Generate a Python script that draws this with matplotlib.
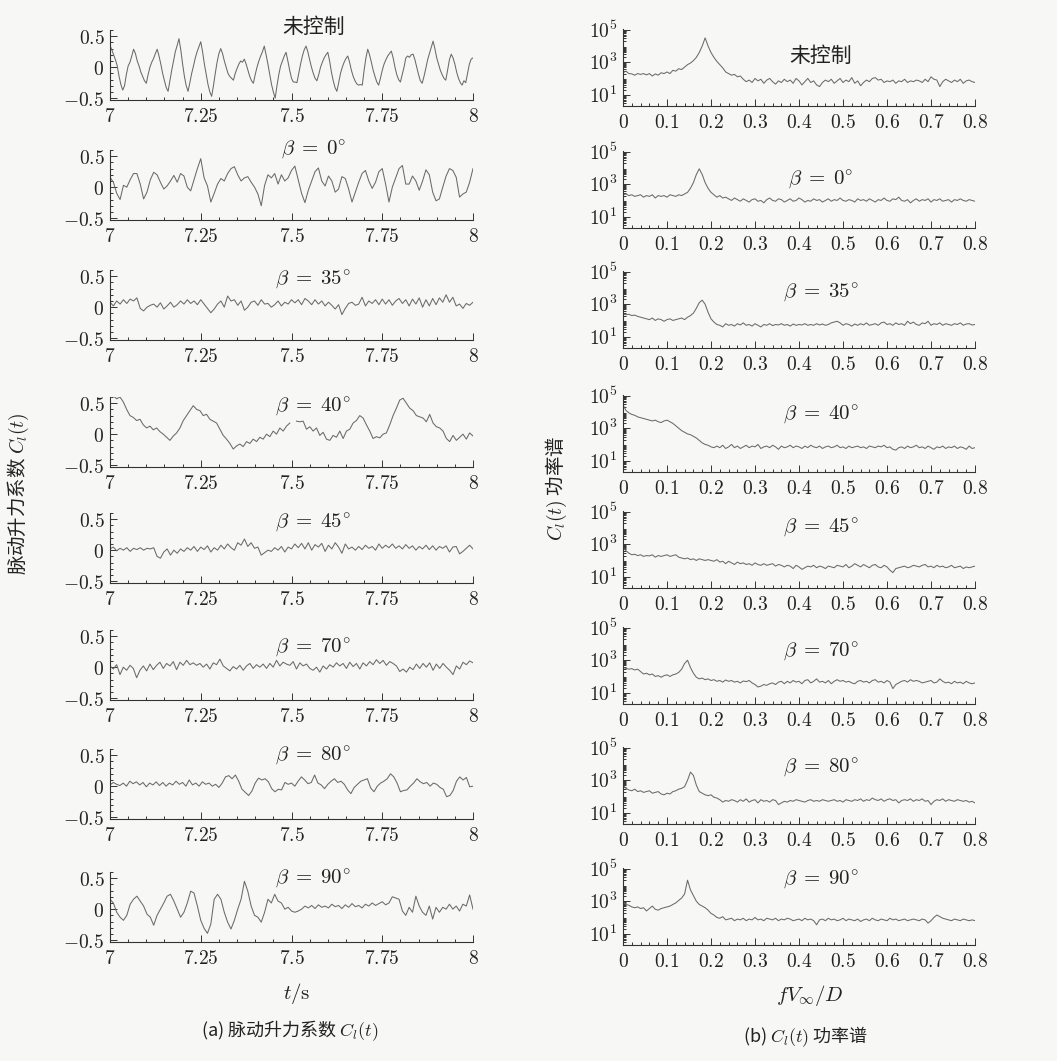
import numpy as np
import matplotlib
matplotlib.use("Agg")
import matplotlib.pyplot as plt
from matplotlib.ticker import MultipleLocator, LogLocator, NullFormatter

plt.rcParams['font.family'] = ['Noto Sans CJK SC', 'DejaVu Sans']
plt.rcParams['mathtext.fontset'] = 'cm'

# ---- pulsating lift coefficient Cl(t), t = 7..8 s ----
cl_none = [0.35, 0.28, 0.20, 0.12, 0.02, -0.15, -0.28, -0.37,
           -0.30, -0.12, 0.02, 0.08, 0.18, 0.29,
           0.22, 0.10, 0.02, -0.08, -0.15, -0.22, -0.26,
           -0.12, 0.00, 0.08, 0.14, 0.22, 0.29,
           0.18, 0.05, -0.10, -0.22, -0.33, -0.39,
           -0.22, -0.05, 0.10, 0.25, 0.35, 0.46,
           0.28, 0.05, -0.15, -0.30, -0.39,
           -0.25, -0.10, 0.02, 0.15, 0.25, 0.33, 0.41,
           0.25, 0.05, -0.12, -0.28, -0.40, -0.47,
           -0.30, -0.10, 0.08, 0.22, 0.30,
           0.22, 0.10, 0.00, -0.10, -0.15, -0.18, -0.21,
           -0.10, -0.02, 0.05, 0.10, 0.08, 0.13,
           0.05, -0.05, -0.15, -0.22, -0.26,
           -0.12, 0.00, 0.10, 0.18, 0.25, 0.34,
           0.20, 0.05, -0.12, -0.28, -0.40, -0.50,
           -0.30, -0.12, 0.02, 0.10, 0.18, 0.24,
           0.10, -0.05, -0.18, -0.24, -0.24, -0.25,
           -0.10, 0.05, 0.18, 0.28, 0.34,
           0.25, 0.12, 0.00, -0.10, -0.18, -0.22,
           -0.12, 0.00, 0.08, 0.15, 0.20, 0.24,
           0.10, -0.08, -0.22, -0.33, -0.39,
           -0.25, -0.10, 0.00, 0.08, 0.14, 0.18,
           0.08, -0.05, -0.15, -0.22, -0.27, -0.29,
           -0.28, -0.29, -0.05, 0.15, 0.29,
           0.20, 0.08, -0.05, -0.15, -0.24, -0.29,
           -0.18, -0.05, 0.05, 0.12, 0.18, 0.22, 0.26,
           0.15, 0.00, -0.12, -0.20, -0.24,
           -0.12, 0.00, 0.15, 0.18, 0.16, 0.20, 0.21,
           0.12, 0.00, -0.12, -0.22, -0.26,
           -0.15, -0.02, 0.12, 0.22, 0.32, 0.42,
           0.30, 0.15, 0.05, -0.05, -0.12, -0.18, -0.21,
           -0.05, 0.12, 0.21,
           0.15, 0.05, -0.08, -0.18, -0.25, -0.29,
           -0.22, -0.25, -0.10, 0.05, 0.13, 0.15]

cl_b0 = [0.16, 0.08, -0.10, -0.20, 0.03, 0.00, 0.12, 0.22, 0.22, 0.05,
         -0.19, -0.08, 0.12, 0.24, 0.20, 0.08, -0.03, 0.02, 0.10, 0.19,
         0.08, 0.22, 0.18, 0.00, -0.06, 0.12, 0.30, 0.46, 0.15, 0.02,
         -0.24, -0.10, 0.05, 0.14, 0.10, 0.22, 0.30, 0.33, 0.20, 0.10,
         0.15, 0.17, 0.08, 0.00, -0.11, -0.30, 0.03, 0.20, 0.15, 0.22,
         0.05, 0.20, 0.10, 0.15, 0.27, 0.34, 0.12, -0.10, -0.25, -0.05,
         0.10, 0.25, 0.31, 0.10, 0.02, 0.18, 0.10, -0.08, -0.03, 0.17,
         0.14, -0.03, -0.24, -0.08, 0.08, 0.22, 0.27, 0.10, -0.02, 0.08,
         0.25, 0.30, 0.05, -0.24, 0.00, 0.15, 0.30, 0.35, 0.05, 0.05,
         0.18, 0.10, -0.05, 0.10, 0.28, 0.20, -0.08, -0.22, -0.19, 0.00,
         0.18, 0.30, 0.27, 0.16, -0.16, -0.11, -0.08, 0.08, 0.30]

cl_b35 = [0.08, 0.02, 0.10, 0.05, 0.12, 0.06, 0.13, 0.10, 0.15, -0.02,
          -0.06, 0.00, 0.03, 0.05, 0.00, 0.07, -0.03, 0.02, 0.08, 0.00,
          0.04, 0.10, 0.05, 0.12, 0.06, 0.10, 0.04, 0.12, 0.05, -0.02,
          -0.09, -0.03, 0.05, 0.10, 0.00, 0.18, 0.10, 0.12, 0.03, 0.10,
          -0.05, 0.00, 0.08, 0.10, 0.03, 0.12, 0.05, 0.06, 0.00, 0.04,
          0.10, 0.02, 0.08, 0.05, 0.12, 0.07, 0.12, 0.04, 0.14, 0.10,
          0.04, 0.12, 0.05, 0.10, 0.02, 0.08, 0.03, -0.03, 0.04, -0.12,
          -0.02, 0.06, 0.08, 0.03, 0.05, 0.16, 0.02, 0.10, 0.06, 0.12,
          0.04, 0.13, 0.05, 0.12, 0.03, 0.10, 0.14, 0.06, 0.12, 0.02,
          0.13, 0.05, 0.15, 0.00, 0.12, 0.02, 0.14, 0.04, 0.15, 0.08,
          0.20, 0.08, 0.16, 0.02, 0.05, -0.02, 0.06, 0.03, 0.08]

nan = float('nan')
cl_b40 = [0.58, 0.62, 0.57, 0.60, 0.52, 0.40, 0.30, 0.27, 0.22, 0.24,
          0.15, 0.10, 0.13, 0.07, 0.10, 0.04, 0.00, -0.05, -0.10, -0.03,
          0.02, 0.10, 0.22, 0.30, 0.38, 0.46, 0.40, 0.38, 0.30, 0.32,
          0.24, 0.21, 0.18, 0.08, -0.02, -0.08, -0.15, -0.24, -0.19, -0.16,
          -0.20, -0.12, -0.15, -0.08, -0.12, -0.05, -0.08, 0.00, -0.04, 0.05,
          0.00, 0.10, 0.05, 0.13, 0.18, nan, 0.21, 0.20, 0.21, 0.08,
          0.12, 0.05, 0.10, -0.02, 0.03, -0.08, -0.10, -0.02, -0.05, 0.05,
          -0.07, 0.05, 0.08, 0.18, 0.22, 0.30, 0.26, 0.15, 0.05, -0.07,
          -0.04, -0.06, 0.00, 0.02, 0.15, 0.30, 0.42, 0.55, 0.58, 0.50,
          0.42, 0.38, 0.30, 0.28, 0.26, 0.20, 0.32, 0.18, 0.12, 0.10,
          0.05, -0.07, -0.12, -0.02, -0.10, -0.05, 0.00, -0.08, 0.02, -0.03]

cl_b45 = [0.02, 0.05, -0.01, 0.03, 0.00, 0.04, -0.02, 0.03, 0.01, 0.04,
          0.00, 0.03, 0.02, 0.04, -0.10, -0.13, -0.03, 0.02, -0.08, 0.00,
          -0.05, 0.02, -0.02, 0.04, 0.00, 0.06, -0.02, 0.05, 0.01, 0.07,
          -0.03, 0.04, 0.00, 0.08, 0.02, 0.10, 0.04, 0.00, 0.12, 0.08,
          0.18, 0.06, 0.12, 0.03, 0.05, -0.08, -0.04, 0.00, -0.02, 0.04,
          0.00, 0.06, -0.03, 0.05, 0.02, 0.10, 0.04, 0.11, 0.02, 0.12,
          0.00, 0.09, 0.05, 0.11, -0.02, 0.08, 0.02, 0.12, 0.05, -0.05,
          0.10, 0.02, 0.05, 0.00, 0.06, 0.01, 0.08, 0.03, 0.06, 0.00,
          0.10, 0.03, 0.08, 0.04, 0.10, 0.03, 0.07, 0.02, 0.09, 0.03,
          0.07, 0.00, 0.06, 0.02, 0.08, 0.01, 0.07, 0.00, 0.06, 0.03,
          0.07, -0.03, 0.05, 0.06, -0.06, -0.02, 0.03, 0.08, 0.02]

cl_b70 = [0.02, -0.03, 0.04, -0.12, 0.00, -0.05, 0.03, -0.02, -0.17, -0.05,
          0.02, -0.06, 0.05, -0.04, 0.03, 0.08, -0.02, 0.06, 0.02, 0.09,
          -0.04, 0.08, 0.03, 0.11, 0.04, 0.07, 0.03, 0.06, 0.00, 0.05,
          -0.03, 0.07, 0.04, 0.13, 0.02, -0.02, -0.06, 0.01, -0.03, 0.03,
          -0.05, 0.02, 0.06, -0.02, 0.04, 0.00, 0.05, -0.02, 0.06, 0.00,
          0.11, 0.02, 0.08, 0.05, 0.03, 0.09, -0.03, 0.07, 0.02, 0.05,
          -0.02, -0.05, 0.00, -0.08, 0.02, -0.03, 0.04, 0.00, 0.07, 0.02,
          0.06, -0.02, 0.08, 0.01, 0.06, -0.03, 0.07, 0.02, 0.09, 0.04,
          0.12, 0.06, 0.11, 0.03, 0.09, 0.06, 0.02, -0.07, -0.03, -0.08,
          0.00, -0.04, 0.05, -0.02, 0.06, 0.00, 0.07, -0.05, 0.05, -0.02,
          0.06, 0.00, -0.05, -0.12, 0.02, -0.03, 0.08, 0.04, 0.10, 0.07]

cl_b80 = [0.02, 0.06, 0.03, 0.01, 0.05, 0.00, 0.08, 0.04, 0.07, 0.02,
          0.06, -0.01, 0.05, 0.02, 0.07, 0.01, 0.06, 0.00, 0.05, 0.02,
          0.08, 0.03, 0.06, 0.00, 0.10, 0.02, 0.05, 0.00, 0.07, 0.03,
          0.05, 0.00, 0.03, -0.02, 0.05, 0.15, 0.17, 0.12, 0.18, 0.08,
          -0.05, -0.10, -0.15, -0.08, 0.05, 0.13, 0.10, 0.12, 0.07, -0.04,
          -0.09, -0.05, -0.06, 0.06, 0.03, 0.05, 0.00, 0.08, 0.15, 0.10,
          0.04, 0.06, 0.18, 0.05, 0.02, -0.04, 0.03, 0.08, 0.12, 0.06,
          0.08, 0.03, -0.06, -0.12, -0.02, 0.03, 0.08, 0.10, 0.12, -0.03,
          -0.09, 0.00, 0.05, 0.08, 0.12, 0.20, 0.15, 0.05, -0.09, -0.07,
          -0.06, 0.00, 0.05, 0.12, 0.07, 0.04, 0.06, 0.00, 0.05, 0.03,
          -0.02, -0.05, -0.17, -0.15, -0.07, 0.08, 0.15, 0.10, 0.14, -0.01,
          0.00]

cl_b90 = [0.16, 0.10, -0.05, -0.13, -0.18, -0.10, 0.08, 0.16, 0.21, 0.13,
          0.05, -0.08, -0.13, -0.26, -0.10, 0.00, 0.10, 0.21, 0.24, 0.13,
          0.00, -0.13, -0.05, 0.10, 0.29, 0.26, 0.05, -0.18, -0.31, -0.39,
          -0.24, 0.16, 0.24, 0.16, -0.05, -0.21, -0.32, -0.18, 0.00, 0.16,
          0.45, 0.29, 0.05, -0.10, -0.13, -0.21, -0.05, 0.16, 0.10, 0.24,
          0.13, 0.10, 0.00, 0.03, -0.03, -0.05, -0.03, 0.00, 0.05, 0.02,
          0.06, 0.01, 0.07, 0.03, 0.05, 0.02, 0.08, 0.04, 0.06, 0.01,
          0.07, 0.03, 0.09, 0.04, 0.06, 0.02, 0.08, 0.05, 0.10, 0.06,
          0.09, 0.12, 0.07, 0.10, 0.20, 0.18, 0.16, -0.03, -0.10, 0.03,
          -0.05, 0.21, 0.05, -0.05, -0.10, 0.05, -0.16, 0.03, -0.05, 0.03,
          0.00, 0.08, 0.00, 0.05, -0.03, 0.08, 0.05, 0.23, 0.00]

# ---- power spectra of Cl(t), log10 of power, fV/D = 0..0.8 ----
psd_none = [2.35, 2.45, 2.3, 2.28, 2.2, 2.3, 2.25, 2.3, 2.22, 2.3,
            2.15, 2.28, 2.2, 2.35, 2.3, 2.4, 2.3, 2.5, 2.45, 2.6,
            2.55, 2.7, 2.85, 2.95, 3.1, 3.3, 3.6, 4.0, 4.5,
            4.0, 3.6, 3.3, 3.05, 2.85, 2.65, 2.4, 2.3, 2.2, 2.25, 2.1, 2.15, 1.95, 1.8,
            1.9, 1.75, 2.0, 1.85, 1.95, 1.7, 1.9, 2.0, 1.8, 1.65, 1.85, 1.75, 1.95, 1.8, 1.9, 1.7, 2.0, 1.85,
            1.6, 1.8, 2.0, 1.75, 1.85, 1.6, 1.5, 1.75, 1.9, 1.8, 1.95, 1.7, 1.85, 2.0, 1.75, 1.9, 1.8, 2.05, 1.7, 1.85,
            1.55, 1.75, 1.9, 1.8, 2.0, 2.05, 1.9, 1.95, 1.75, 1.85, 1.8, 1.9, 1.7, 1.85, 1.8, 1.95, 1.75, 1.85, 1.8, 1.9,
            1.85, 1.75, 1.95, 1.8, 2.1, 1.95, 1.9, 1.5, 1.8, 1.95, 1.85, 1.75, 1.9, 1.8, 1.95, 1.7, 1.85, 1.9, 1.8, 1.75]

psd_b0 = [2.35, 2.4, 2.3, 2.35, 2.25, 2.3, 2.35, 2.2, 2.3, 2.25, 2.35, 2.15,
          2.3, 2.25, 2.3, 2.2, 2.35, 2.3, 2.25, 2.35, 2.3, 2.4, 2.5,
          2.75, 3.1, 3.6, 3.95,
          3.6, 3.1, 2.75, 2.5, 2.35, 2.2, 2.3, 2.15, 2.2,
          2.1, 2.0, 2.15, 2.05, 1.95, 2.1, 2.0, 1.9, 2.05, 2.1, 1.95, 2.0, 1.85, 2.05, 2.15, 2.0, 1.95, 2.1, 2.05, 1.9,
          2.0, 2.1, 1.95, 2.0, 2.15, 2.05, 1.9, 2.0, 1.95, 2.1, 2.0, 2.05, 1.9, 2.0, 2.1, 1.95, 2.05, 2.0, 2.15, 2.0,
          1.95, 2.05, 2.0, 1.9, 2.1, 2.0, 2.05, 1.95, 2.1, 2.0, 1.9, 2.05, 2.0, 2.15, 2.0, 1.95, 2.1, 2.05, 2.2, 2.0,
          1.95, 2.05, 1.85, 2.0, 2.1, 1.95, 2.05, 2.0, 2.1, 1.9, 2.05, 2.0, 2.1, 1.95, 2.0, 2.05, 1.9, 2.05, 2.0, 2.1,
          2.0, 1.95, 2.05, 2.0, 1.95]

psd_b35 = [2.4, 2.35, 2.38, 2.3, 2.33, 2.25, 2.2, 2.15, 2.1, 2.05, 2.15, 2.0, 2.1,
           2.05, 1.95, 2.05, 2.1, 2.0, 2.05, 2.1, 2.15, 2.05, 2.2, 2.3, 2.45,
           2.75, 3.1, 3.25, 3.0, 2.5, 2.1, 1.9, 1.75,
           1.7, 1.6, 1.8, 1.7, 1.75, 1.65, 1.8, 1.72, 1.85, 1.7, 1.75, 1.65, 1.8, 1.7, 1.6, 1.75, 1.7, 1.8, 1.68, 1.75,
           1.72, 1.8, 1.7, 1.75, 1.65, 1.78, 1.7, 1.75, 1.72, 1.8, 1.7, 1.75, 1.7, 1.8, 1.72, 1.78, 1.7, 1.75, 1.85, 1.9,
           1.95, 1.85, 1.7, 1.8, 1.75, 1.65, 1.78, 1.7, 1.8, 1.72, 1.85, 1.7, 1.75, 1.8, 1.7, 1.85, 1.9, 1.75, 1.8, 1.7,
           1.85, 1.75, 1.8, 1.7, 1.95, 1.8, 1.9, 1.75, 1.7, 1.85, 1.8, 1.95, 1.7, 1.8, 1.75, 1.85, 1.7, 1.8, 1.75, 1.7,
           1.8, 1.75, 1.85, 1.7, 1.78, 1.8, 1.72, 1.75]

psd_b40 = [4.45, 4.1, 3.95, 3.85, 3.8, 3.7, 3.65, 3.6, 3.55, 3.5, 3.45, 3.5, 3.4, 3.35, 3.45, 3.5,
           3.4, 3.3, 3.15, 3.0, 2.85, 2.75, 2.65, 2.6, 2.5, 2.4, 2.25, 2.1, 2.0, 1.95, 1.85, 1.8,
           1.9, 1.8, 1.95, 1.75, 1.85, 2.0, 1.8, 1.9, 1.75, 1.85, 1.95, 1.8, 1.9, 1.85, 2.0, 1.75, 1.85, 1.9, 1.8, 1.95,
           1.85, 1.7, 1.9, 1.8, 1.85, 1.95, 1.8, 1.9, 1.85, 1.75, 1.9, 1.8, 1.95, 1.85, 1.8, 1.9, 1.75, 1.85, 1.9, 1.8,
           1.85, 1.95, 1.8, 1.85, 1.75, 1.9, 1.8, 1.85, 1.9, 1.8, 1.85, 1.75, 1.9, 1.85, 1.8, 1.9, 1.85, 1.95, 1.8, 1.85,
           1.7, 1.65, 1.8, 1.85, 1.75, 1.9, 1.8, 1.85, 1.95, 1.8, 1.85, 1.75, 1.9, 1.8, 1.7, 1.85, 1.8, 1.9, 1.75, 1.85,
           1.8, 1.9, 1.75, 1.85, 1.8, 1.7, 1.9, 1.75, 1.8]

psd_b45 = [2.8, 2.6, 2.45, 2.35, 2.38, 2.3, 2.35, 2.25, 2.3, 2.28, 2.35, 2.2, 2.3, 2.25, 2.3, 2.35, 2.25, 2.3, 2.35, 2.2,
           2.15, 2.1, 2.15, 2.05, 2.1, 2.0, 2.1, 2.05, 2.0, 2.05, 2.0, 1.95, 2.05, 1.9, 1.95, 1.8, 1.95, 1.85, 1.75, 1.9,
           1.8, 1.85, 1.75, 1.8, 1.7, 1.85, 1.75, 1.7, 1.8, 1.7, 1.75, 1.8, 1.65, 1.75, 1.7, 1.6, 1.7, 1.65, 1.5, 1.7,
           1.6, 1.45, 1.55, 1.65, 1.6, 1.7, 1.55, 1.65, 1.6, 1.5, 1.65, 1.6, 1.55, 1.7, 1.65, 1.6, 1.75, 1.55, 1.65, 1.8,
           1.7, 1.6, 1.75, 1.65, 1.55, 1.7, 1.75, 1.6, 1.55, 1.7, 1.6, 1.4, 1.25, 1.5, 1.55, 1.6, 1.65, 1.55, 1.6, 1.7,
           1.65, 1.6, 1.7, 1.75, 1.6, 1.65, 1.55, 1.7, 1.6, 1.65, 1.55, 1.6, 1.7, 1.55, 1.6, 1.65, 1.5, 1.6, 1.55, 1.6,
           1.65]

psd_b70 = [2.55, 2.5, 2.45, 2.48, 2.4, 2.45, 2.3, 2.15, 2.2, 2.1, 2.15, 2.0, 2.05, 1.95, 2.05, 2.1, 2.0, 2.1, 2.15, 2.25,
           2.45, 2.8, 3.0, 2.55, 2.2, 1.95, 1.85, 1.9, 1.8, 1.85, 1.75, 1.8, 1.7, 1.75, 1.65, 1.78, 1.7, 1.75, 1.65, 1.7,
           1.6, 1.72, 1.68, 1.75, 1.6, 1.5, 1.35, 1.4, 1.5, 1.45, 1.55, 1.6, 1.5, 1.65, 1.7, 1.55, 1.7, 1.6, 1.75, 1.65,
           1.7, 1.55, 1.75, 1.8, 1.6, 1.7, 1.85, 1.65, 1.7, 1.6, 1.75, 1.55, 1.7, 1.8, 1.7, 1.75, 1.65, 1.7, 1.6, 1.55,
           1.7, 1.75, 1.65, 1.7, 1.6, 1.75, 1.8, 1.65, 1.7, 1.6, 1.75, 1.65, 1.25, 1.5, 1.6, 1.7, 1.75, 1.65, 1.8, 1.7,
           1.75, 1.7, 1.6, 1.65, 1.7, 1.75, 1.6, 1.65, 1.85, 1.7, 1.6, 1.65, 1.55, 1.7, 1.6, 1.65, 1.55, 1.7, 1.6, 1.55,
           1.6]

psd_b80 = [2.7, 2.5, 2.4, 2.35, 2.45, 2.3, 2.35, 2.25, 2.3, 2.35, 2.2, 2.25, 2.3, 2.15, 2.1, 2.2, 2.15, 2.3, 2.35, 2.45,
           2.5, 2.6, 3.0, 3.5, 3.3, 2.7, 2.3, 2.2, 2.1, 2.05, 2.1, 1.95, 1.9, 1.8, 1.65, 1.75, 1.7, 1.8, 1.75, 1.65,
           1.8, 1.7, 1.85, 1.65, 1.75, 1.8, 1.6, 1.8, 1.7, 1.75, 1.65, 1.8, 1.75, 1.5, 1.6, 1.7, 1.65, 1.75, 1.7, 1.8,
           1.75, 1.7, 1.65, 1.75, 1.8, 1.7, 1.75, 1.7, 1.8, 1.75, 1.7, 1.75, 1.8, 1.7, 1.75, 1.65, 1.8, 1.75, 1.7, 1.8,
           1.75, 1.85, 1.7, 1.8, 1.75, 1.9, 1.8, 1.75, 1.85, 1.7, 1.8, 1.85, 1.75, 1.8, 1.6, 1.75, 1.8, 1.75, 1.85, 1.7,
           1.8, 1.75, 1.85, 1.7, 1.75, 1.5, 1.7, 1.8, 1.75, 1.85, 1.7, 1.8, 1.75, 1.7, 1.8, 1.75, 1.7, 1.75, 1.65, 1.7,
           1.6]

psd_b90 = [2.95, 2.8, 2.75, 2.65, 2.6, 2.65, 2.55, 2.6, 2.4, 2.55, 2.7, 2.5, 2.45, 2.55, 2.6, 2.65, 2.7, 2.8, 2.9, 3.05,
           3.2, 3.45, 4.3, 3.7, 3.35, 3.0, 2.8, 2.7, 2.6, 2.45, 2.25, 2.15, 2.0, 1.95, 2.05, 1.85, 1.9, 1.95, 1.8, 1.9,
           1.85, 1.95, 1.8, 1.9, 1.85, 2.0, 1.85, 1.9, 1.8, 1.95, 1.9, 1.85, 1.95, 1.8, 1.9, 1.85, 1.95, 1.9, 1.8, 1.85,
           1.9, 1.8, 1.95, 1.85, 1.9, 1.8, 1.55, 1.85, 1.9, 1.8, 1.95, 1.85, 1.9, 1.8, 1.85, 1.95, 1.8, 1.9, 1.85, 1.8,
           1.9, 1.75, 1.85, 1.9, 1.8, 1.95, 1.85, 1.8, 1.9, 1.85, 1.8, 1.95, 1.85, 1.9, 1.8, 1.85, 1.9, 1.8, 1.85, 1.9,
           1.85, 1.8, 1.9, 1.85, 1.65, 1.8, 2.0, 2.15, 2.05, 1.95, 1.9, 1.85, 1.8, 1.9, 1.85, 1.8, 1.9, 1.85, 1.8, 1.85,
           1.8]

titles = ['未控制', r'$\beta\;=\;0^{\circ}$', r'$\beta\;=\;35^{\circ}$', r'$\beta\;=\;40^{\circ}$',
          r'$\beta\;=\;45^{\circ}$', r'$\beta\;=\;70^{\circ}$', r'$\beta\;=\;80^{\circ}$',
          r'$\beta\;=\;90^{\circ}$']
cl_all = [cl_none, cl_b0, cl_b35, cl_b40, cl_b45, cl_b70, cl_b80, cl_b90]
psd_all = [psd_none, psd_b0, psd_b35, psd_b40, psd_b45, psd_b70, psd_b80, psd_b90]

W, H = 1057, 1061
fig = plt.figure(figsize=(W / 100, H / 100), dpi=100, facecolor='#f7f7f6')

# axis bottoms in pixels from the top of the page
left_bottom = [100, 220, 340, 467, 583, 700, 819, 942]
right_bottom = [106, 228, 348, 472, 588, 704, 824, 945]
left_title_y = [0.65, 0.60, 0.44, 0.44, 0.44, 0.32, 0.50, 0.50]
right_title_y = [3.36, 3.3, 3.74, 3.86, 4.05, 3.55, 3.8, 4.36]

line_kw = dict(color='#6a6a6a', lw=0.75)
tick_color = '#333333'


def style(ax):
    for s in ('top', 'right'):
        ax.spines[s].set_visible(False)
    for s in ('left', 'bottom'):
        ax.spines[s].set_color(tick_color)
        ax.spines[s].set_linewidth(0.8)
    ax.set_facecolor('none')
    ax.tick_params(which='both', direction='in', color=tick_color,
                   labelcolor='#222222', labelsize=14, width=0.7)
    ax.tick_params(which='major', length=5, pad=4)
    ax.tick_params(which='minor', length=2.5)


for i in range(8):
    # left column: Cl(t)
    axl = fig.add_axes([110 / W, 1 - left_bottom[i] / H, 363 / W, 70 / H])
    t = np.linspace(7, 8, len(cl_all[i]))
    axl.plot(t, cl_all[i], **line_kw)
    axl.set_xlim(7, 8)
    axl.set_ylim(-0.53, 0.6)
    axl.set_xticks([7, 7.25, 7.5, 7.75, 8],
                   labels=[r'$7$', r'$7.25$', r'$7.5$', r'$7.75$', r'$8$'])
    axl.set_yticks([-0.5, 0, 0.5], labels=[r'$-0.5$', r'$0$', r'$0.5$'])
    axl.xaxis.set_minor_locator(MultipleLocator(0.05))
    axl.yaxis.set_minor_locator(MultipleLocator(0.1))
    style(axl)
    axl.text(7.56, left_title_y[i], titles[i], ha='center', va='center',
             fontsize=15, color='#222222')

    # right column: power spectrum
    axr = fig.add_axes([623 / W, 1 - right_bottom[i] / H, 352 / W, 77 / H])
    f = np.linspace(0, 0.8, len(psd_all[i]))
    axr.semilogy(f, 10 ** np.array(psd_all[i]), **line_kw)
    axr.set_xlim(0, 0.8)
    axr.set_ylim(10 ** 0.3, 10 ** 5.05)
    axr.set_xticks(np.arange(0, 0.81, 0.1),
                   labels=[r'$0$'] + [r'$0.%d$' % k for k in range(1, 9)])
    axr.set_yticks([1e1, 1e3, 1e5], labels=[r'$10^1$', r'$10^3$', r'$10^5$'])
    axr.xaxis.set_minor_locator(MultipleLocator(0.02))
    axr.yaxis.set_minor_locator(LogLocator(base=10, subs=np.arange(2, 10), numticks=20))
    axr.yaxis.set_minor_formatter(NullFormatter())
    style(axr)
    axr.text(0.45, 10 ** right_title_y[i], titles[i], ha='center', va='center',
             fontsize=15, color='#222222')

fig.text(0.017, 0.535, '脉动升力系数 $C_l(t)$', rotation=90, ha='center', va='center',
         fontsize=14, color='#222222')
fig.text(0.526, 0.54, '$C_l(t)$ 功率谱', rotation=90, ha='center', va='center',
         fontsize=14, color='#222222')
fig.text(0.281, 0.064, r'$t/\mathrm{s}$', ha='center', va='center', fontsize=15, color='#222222')
fig.text(0.766, 0.062, r'$fV_\infty/D$', ha='center', va='center', fontsize=15, color='#222222')
fig.text(0.274, 0.029, '(a) 脉动升力系数 $C_l(t)$', ha='center', va='center',
         fontsize=13, color='#222222')
fig.text(0.762, 0.023, '(b) $C_l(t)$ 功率谱', ha='center', va='center',
         fontsize=13, color='#222222')

fig.savefig('out.png', dpi=100, facecolor=fig.get_facecolor())
